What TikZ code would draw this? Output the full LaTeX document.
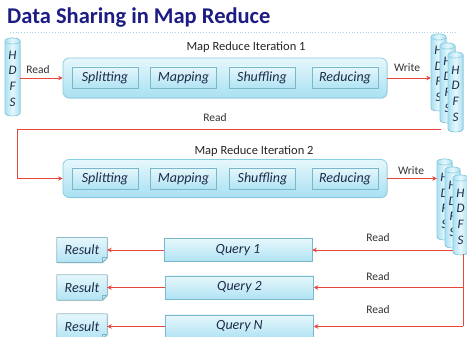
\documentclass[tikz,border=0pt]{standalone}
\usepackage{fontspec}
\setmainfont{Carlito}
\usetikzlibrary{arrows.meta,shadows}
\definecolor{navy}{HTML}{1C1C84}
\definecolor{txt}{HTML}{1E2B48}
\definecolor{redl}{HTML}{E8453C}
\definecolor{bord}{HTML}{86CCE2}
\definecolor{ctop}{HTML}{E6F7FC}
\definecolor{cbot}{HTML}{A8E0F2}
\definecolor{dotc}{HTML}{A8D0EC}
\newcommand\hcyl[4]{%
  \filldraw[cylst] (#2,#3) -- (#2,#4) arc[start angle=180,end angle=360,x radius=7.5pt,y radius=3pt]
    -- (#2+15,#3) arc[start angle=0,end angle=180,x radius=7.5pt,y radius=3pt] -- cycle;
  \draw[cylst,fill=ctop] (#2+7.5,#3) ellipse [x radius=7.5pt,y radius=3pt];
  \node[cyltxt,minimum height={(#4-#3)*1pt}] (#1) at (#2+7.5,{(#3+#4)/2+1.5}) {H\\D\\F\\S};
}
\tikzset{
  cylst/.style={draw=bord,line width=0.6pt,left color=cbot,right color=cbot,middle color=ctop},
  cyltxt/.style={inner sep=0pt,minimum width=15pt,align=center,text=txt,
    font=\itshape\fontsize{13}{15.6}\selectfont},
  mrbox/.style={draw=bord,line width=0.7pt,rounded corners=6pt,top color=ctop,bottom color=cbot,
    drop shadow={shadow xshift=0.8pt,shadow yshift=-0.8pt,fill=black!20,opacity=0.5}},
  stage/.style={draw=bord!90!black,line width=0.5pt,top color=ctop,bottom color=cbot!90,
    minimum width=66pt,minimum height=21pt,inner sep=0pt,text=txt,
    font=\itshape\fontsize{14}{15}\selectfont,
    drop shadow={shadow xshift=0.8pt,shadow yshift=-0.8pt,fill=black!30,opacity=0.5}},
  query/.style={stage,minimum width=148pt,minimum height=23pt},
  lbl/.style={inner sep=0pt,text=black!80,font=\fontsize{11.5}{12}\selectfont},
  itlbl/.style={inner sep=0pt,text=black!85,font=\fontsize{12.5}{13}\selectfont},
  arr/.style={draw=redl,line width=0.7pt,-{Stealth[length=4.5pt,width=4.5pt]}},
  rline/.style={draw=redl,line width=0.7pt},
  result/.style={inner sep=0pt,minimum width=50pt,minimum height=25pt,text=txt,
    font=\itshape\fontsize{14}{15}\selectfont}
}
\begin{document}
\begin{tikzpicture}[x=1pt,y=-1pt]
\useasboundingbox (0,0) rectangle (467,337);
\clip (0,0) rectangle (467,337);
\fill[white] (0,0) rectangle (467,337);
% title
\node[anchor=west,inner sep=0pt,text=navy,font=\bfseries\fontsize{22.5}{24}\selectfont] (title) at (7,18) {Data Sharing in Map Reduce};
\draw[dotc,dotted,line width=0.8pt] (10,32.5) -- (458,32.5);
% left HDFS
\hcyl{hL}{5}{41}{113}
% iteration 1
\node[mrbox,minimum width=324pt,minimum height=40pt,inner sep=0pt] (it1) at (225,78) {};
\node[itlbl] (it1l) at (246,47) {Map Reduce Iteration 1};
\node[stage] (s1) at (105,77.5) {Splitting};
\node[stage] (m1) at (183.5,77.5) {Mapping};
\node[stage] (f1) at (262,77.5) {Shuffling};
\node[stage] (r1) at (345,77.5) {Reducing};
\node[lbl] (rd1l) at (38,70) {Read};
\draw[arr] (hL.east |- it1.west) -- (it1.west);
\node[lbl] (wr1l) at (407,68) {Write};
% right stack 1
\hcyl{ra}{431}{37}{108}
\hcyl{rb}{440}{46}{120}
\hcyl{rc}{448}{55}{129}
\draw[arr] (it1.east) -- (ra.west |- it1.east);
% read to iteration 2
\node[lbl] (rd2l) at (215,118) {Read};
\coordinate (rs) at (441,129.5);
\coordinate (lc) at (17,129.5);
% iteration 2
\node[mrbox,minimum width=324pt,minimum height=38pt,inner sep=0pt] (it2) at (225,178.5) {};
\node[itlbl] (it2l) at (254,151) {Map Reduce Iteration 2};
\node[stage] (s2) at (105,178.5) {Splitting};
\node[stage] (m2) at (183.5,178.5) {Mapping};
\node[stage] (f2) at (262.5,178.5) {Shuffling};
\node[stage] (r2) at (345,178.5) {Reducing};
\draw[arr] (rs) -- (lc) |- (it2.west);
\node[lbl] (wr2l) at (411,171) {Write};
% right stack 2
\hcyl{sa}{437}{162}{237}
\hcyl{sb}{445}{170}{245}
\hcyl{sc}{453}{178}{252}
\draw[arr] (it2.east) -- (sa.west |- it2.east);
% queries
\node[query] (q1) at (238,250) {Query 1};
\node[query] (q2) at (239.5,287.5) {Query 2};
\node[query] (qN) at (239.5,326.5) {Query N};
\foreach \n/\y in {1/250,2/287.5,3/326.5}{
  \node[result] (res\n) at (82,\y) {};
  \filldraw[draw=bord!90!black,line width=0.5pt,top color=ctop,bottom color=cbot!90,
    drop shadow={shadow xshift=0.8pt,shadow yshift=-0.8pt,fill=black!30,opacity=0.5}]
    (res\n.north west) -- (res\n.north east) -- ([yshift=5pt]res\n.south east)
    -- ([xshift=-5pt]res\n.south east) -- (res\n.south west) -- cycle;
  \draw[bord!90!black,line width=0.5pt] ([yshift=5pt]res\n.south east) -- ([xshift=-5pt,yshift=5pt]res\n.south east) -- ([xshift=-5pt]res\n.south east);
  \node[result] at (res\n) {Result};
}
\draw[arr] (q1.west) -- (res1.east);
\draw[arr] (q2.west) -- (res2.east);
\draw[arr] (qN.west) -- (res3.east);
\coordinate (v0) at (463,249);
\draw[rline] (sc.south -| v0) -- (v0 |- qN.east);
\draw[arr] (sc.south west |- q1.east) -- (q1.east);
\draw[arr] (v0 |- q2.east) -- (q2.east);
\draw[arr] (v0 |- qN.east) -- (qN.east);
\node[lbl] (rq1) at (378,238) {Read};
\node[lbl] (rq2) at (378,277) {Read};
\node[lbl] (rq3) at (378,310) {Read};
\end{tikzpicture}
\end{document}
